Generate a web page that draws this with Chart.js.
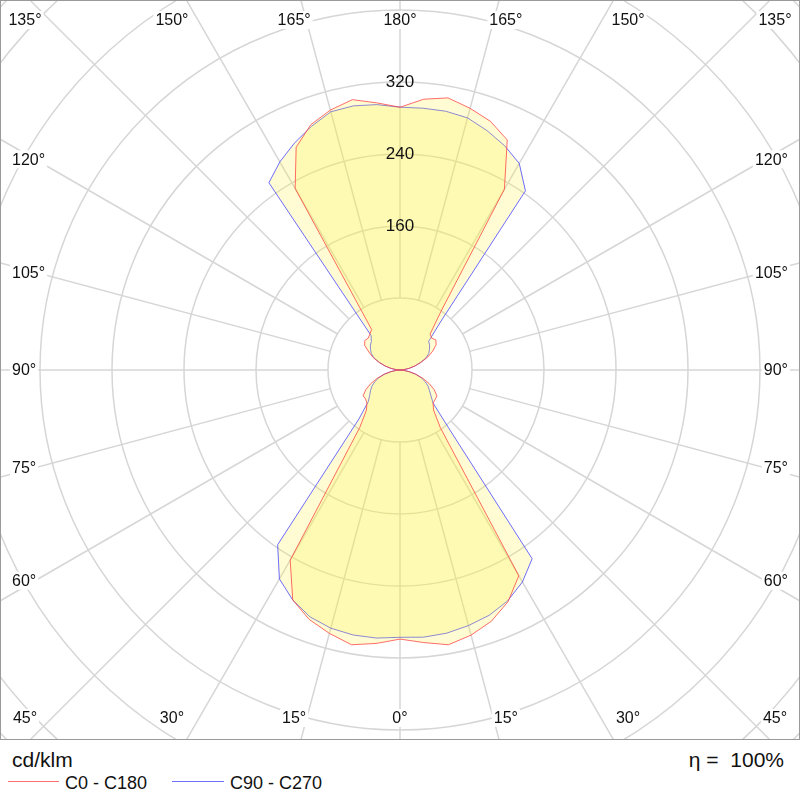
<!DOCTYPE html>
<html>
<head>
<meta charset="utf-8">
<script src="https://cdn.jsdelivr.net/npm/chart.js@4.4.1/dist/chart.umd.min.js"></script>
<style>
  html, body { margin: 0; padding: 0; background: #fff; }
  #wrap { position: relative; width: 800px; height: 800px; font-family: "Liberation Sans", Arial, sans-serif; color: #111; }
  #box { position: absolute; left: 0; top: 0; width: 798px; height: 738px; border: 1px solid #9a9a9a; overflow: hidden; }
  #polar { position: absolute; left: 0; top: 0; }
  .t { position: absolute; white-space: pre; line-height: 1; }
  .sw { position: absolute; height: 1px; }
</style>
</head>
<body>
<div id="wrap">
  <div id="box"><canvas id="polar" width="1098" height="1107"></canvas></div>
  <div class="t" id="unit" style="left:12px; top:749px; font-size:21px;">cd/klm</div>
  <div class="t" id="eta" style="right:16px; top:749px; font-size:21px;">η =  100%</div>
  <div class="sw" style="left:8px; top:781px; width:51px; background:#ff6e6e;"></div>
  <div class="t" id="lg1" style="left:65px; top:774px; font-size:18px;"></div>
  <div class="sw" style="left:172px; top:781px; width:52px; background:#6e6eff;"></div>
  <div class="t" id="lg2" style="left:230px; top:774px; font-size:18px;"></div>
</div>
<script>
// ---- data (cd/klm), gamma angles 0..180 in 5 degree steps ----
const gammaDeg = [0,5,10,15,20,25,30,35,40,45,50,55,60,65,70,75,80,85,90,
                  95,100,105,110,115,120,125,130,135,140,145,150,155,160,165,170,175,180];
// C0 - C180 plane (red): right half C0, left half C180
const c0   = [299,304,310,305,297,284,264,78,58,52,51,50,44,36,27,18,10,4,0,
              4,10,17,25,34,42,49,52,50,52,79,232,282,294,301,307,302,292];
const c180 = [299,305,310,303,295,282,244,78,58,52,50,50,44,36,27,18,10,4,0,
              4,10,17,25,33,40,48,51,50,52,55,233,273,290,299,305,298,292];
// C90 - C270 plane (blue): right half C90, left half C270
const c90  = [297,298,297,294,290,283,272,256,84,52,45,40,36,31,25,18,10,4,0,
              4,10,17,24,32,37,40,43,45,71,243,265,275,283,290,292,292,292];
const c270 = [297,299,299,297,292,282,268,237,71,50,44,40,36,31,25,18,10,4,0,
              4,10,17,24,32,37,40,43,45,50,254,267,278,288,297,298,296,292];

const seriesNames = ['C0 - C180', 'C90 - C270'];
const ringStep = 80;
const ringLabels = [160, 240, 320];
const scaleMax = 600;
const topLabels = [135, 150, 165, 180, 165, 150, 135];
const bottomLabels = [45, 30, 15, 0, 15, 30, 45];
const sideLabels = [120, 105, 90, 75, 60];

document.getElementById('lg1').textContent = seriesNames[0];
document.getElementById('lg2').textContent = seriesNames[1];

// order around the circle: clockwise from the top (right half 180 -> 0, then left half 5 -> 175)
function around(right, left) {
  const out = [];
  for (let k = gammaDeg.length - 1; k >= 0; k--) out.push(right[k]);
  for (let k = 1; k < gammaDeg.length - 1; k++) out.push(left[k]);
  return out;
}
const labels = [];
for (let k = gammaDeg.length - 1; k >= 0; k--) labels.push('R' + gammaDeg[k]);
for (let k = 1; k < gammaDeg.length - 1; k++) labels.push('L' + gammaDeg[k]);

const gridColor = '#d6d6d6';
const FONT = '"Liberation Sans", Arial, sans-serif';
Chart.defaults.font.family = FONT;

const angleLabelPlugin = {
  id: 'angleLabels',
  afterDraw(chart) {
    const s = chart.scales.r;
    const ctx = chart.ctx;
    const cx = s.xCenter, cy = s.yCenter;
    ctx.save();
    ctx.font = '16px ' + FONT;
    ctx.textBaseline = 'middle';
    const put = (txt, x, y, align) => {
      const w = ctx.measureText(txt).width;
      let x0 = align === 'left' ? x : (align === 'right' ? x - w : x - w / 2);
      ctx.fillStyle = '#fff';
      ctx.fillRect(x0 - 2, y - 9, w + 4, 18);
      ctx.fillStyle = '#111';
      ctx.textAlign = 'left';
      ctx.fillText(txt, x0, y + 1);
    };
    const devs = [-45, -30, -15, 0, 15, 30, 45];
    devs.forEach((d, i) => {
      const off = Math.sign(d) * Math.min(395 * Math.tan(Math.abs(d) * Math.PI / 180), 375);
      put(topLabels[i] + '°', cx + off, cy - 350, 'center');
      put(bottomLabels[i] + '°', cx + off, cy + 348, 'center');
    });
    sideLabels.forEach(g => {
      const y = cy - 365 * Math.tan((g - 90) * Math.PI / 180);
      put(g + '°', cx - 388, y, 'left');
      put(g + '°', cx + 388, y, 'right');
    });
    ctx.restore();
  }
};

const canvas = document.getElementById('polar');
const chart = new Chart(canvas, {
  type: 'radar',
  data: {
    labels: labels,
    datasets: [
      {
        label: seriesNames[0],
        data: around(c0, c180),
        borderColor: 'rgba(255,60,60,0.75)',
        borderWidth: 1,
        backgroundColor: 'rgba(255,240,60,0.22)',
        fill: true,
        pointRadius: 0,
        tension: 0
      },
      {
        label: seriesNames[1],
        data: around(c90, c270),
        borderColor: 'rgba(60,60,255,0.75)',
        borderWidth: 1,
        backgroundColor: 'rgba(255,240,60,0.22)',
        fill: true,
        pointRadius: 0,
        tension: 0
      }
    ]
  },
  options: {
    responsive: false,
    maintainAspectRatio: false,
    animation: false,
    events: [],
    plugins: { legend: { display: false }, tooltip: { enabled: false } },
    scales: {
      r: {
        min: 0,
        max: scaleMax,
        startAngle: 0,
        pointLabels: { display: false },
        grid: { circular: true, color: gridColor, lineWidth: 1.5 },
        angleLines: {
          display: true,
          color: gridColor,
          lineWidth: (c) => (c.index % 3 === 0 ? 1.5 : 0),
          borderDash: (c) => {
            const d = c.chart.scales.r.getDistanceFromCenterForValue(ringStep);
            return [0, d, 3000, 0];
          }
        },
        ticks: {
          stepSize: ringStep,
          z: 1,
          color: '#111',
          font: { size: 17 },
          showLabelBackdrop: false,
          backdropPadding: 0,
          callback: (v) => (ringLabels.includes(v) ? String(v) : '')
        }
      }
    }
  },
  plugins: [angleLabelPlugin]
});
const sc = chart.scales.r;
canvas.style.left = (399 - sc.xCenter) + 'px';
canvas.style.top = (369 - sc.yCenter) + 'px';
</script>
</body>
</html>
